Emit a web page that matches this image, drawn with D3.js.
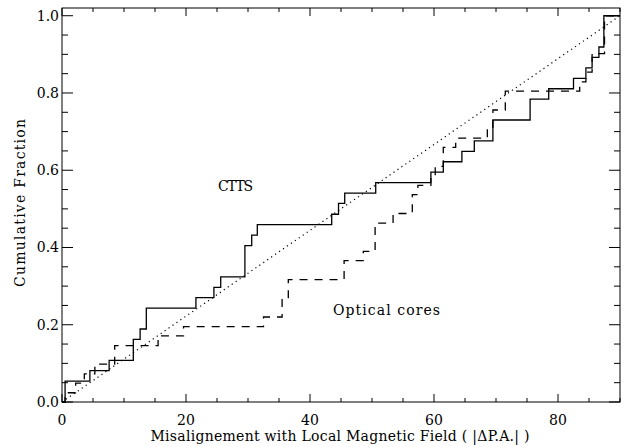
<!DOCTYPE html>
<html>
<head>
<meta charset="utf-8">
<script src="https://cdn.jsdelivr.net/npm/d3@7"></script>
<style>
  body { margin: 0; background: #fff; }
  text { font-family: "DejaVu Serif", serif; fill: #000; }
</style>
</head>
<body>
<div id="chart"></div>
<script>
// CTTS (solid) : angle of each step and cumulative fraction after it
const cttsAngle = [0, 0.5, 4.5, 7.6, 11.5, 12.6, 13.6, 21.6, 24.5, 25.6, 29.5, 30.6, 31.5, 43.5, 44.6, 45.6, 50.6, 59.5, 61.5, 64.5, 66.5, 69.5, 75.5, 78.5, 82.5, 84.5, 85.5, 86.6, 87.4, 90];
const cttsFrac  = [0, 0.054, 0.081, 0.108, 0.162, 0.189, 0.243, 0.270, 0.297, 0.324, 0.405, 0.432, 0.459, 0.486, 0.514, 0.541, 0.568, 0.595, 0.622, 0.649, 0.676, 0.730, 0.784, 0.811, 0.838, 0.865, 0.892, 0.919, 1.0, 1.0];

// Optical cores (dashed)
const coresAngle = [0, 0.5, 2.2, 3.6, 5.3, 8.5, 15.5, 19.6, 32.5, 35.5, 36.5, 45.5, 48.6, 50.5, 53.4, 56.5, 57.4, 59.5, 60.2, 61.5, 63.5, 68.6, 69.5, 71.5, 83.5, 84.5, 85.5, 87.5, 90];
const coresFrac  = [0, 0.024, 0.049, 0.073, 0.098, 0.146, 0.171, 0.195, 0.220, 0.268, 0.317, 0.366, 0.390, 0.463, 0.488, 0.537, 0.561, 0.585, 0.610, 0.659, 0.683, 0.707, 0.756, 0.805, 0.829, 0.854, 0.902, 1.0, 1.0];

// uniform distribution (dotted)
const uniformAngle = [0, 90];
const uniformFrac  = [0, 1];

const xTicks = [0, 20, 40, 60, 80];
const yTicks = [0.0, 0.2, 0.4, 0.6, 0.8, 1.0];

const width = 626, height = 447;
const margin = { top: 8, right: 6, bottom: 45, left: 62 };

const svg = d3.select('#chart').append('svg')
    .attr('width', width)
    .attr('height', height);

const x = d3.scaleLinear().domain([0, 90]).range([margin.left, width - margin.right]);
const y = d3.scaleLinear().domain([0, 1.02]).range([height - margin.bottom, margin.top]);

const x0 = x.range()[0], x1 = x.range()[1];
const y0 = y.range()[0], y1 = y.range()[1];

// ticks point inward on all four sides (IDL style)
const xMajLen = 8, xMinLen = 4, yMajLen = 11, yMinLen = 6;
const xMinor = d3.range(0, 91, 5);
const yMinor = d3.range(0, 1.001, 0.05);

const axes = svg.append('g').attr('stroke', '#000').attr('stroke-width', 1);

xMinor.forEach(v => {
    const len = xTicks.includes(v) ? xMajLen : xMinLen;
    axes.append('line').attr('x1', x(v)).attr('x2', x(v)).attr('y1', y0).attr('y2', y0 - len);
    axes.append('line').attr('x1', x(v)).attr('x2', x(v)).attr('y1', y1).attr('y2', y1 + len);
});
yMinor.forEach(v => {
    const major = yTicks.some(t => Math.abs(t - v) < 1e-6);
    const len = major ? yMajLen : yMinLen;
    axes.append('line').attr('x1', x0).attr('x2', x0 + len).attr('y1', y(v)).attr('y2', y(v));
    axes.append('line').attr('x1', x1).attr('x2', x1 - len).attr('y1', y(v)).attr('y2', y(v));
});

axes.append('rect')
    .attr('x', x0).attr('y', y1)
    .attr('width', x1 - x0).attr('height', y0 - y1)
    .attr('fill', 'none');

// tick labels
svg.append('g').selectAll('text').data(xTicks).enter().append('text')
    .attr('x', d => x(d))
    .attr('y', y0 + 23)
    .attr('text-anchor', 'middle')
    .attr('font-size', 14)
    .text(d => d);

svg.append('g').selectAll('text').data(yTicks).enter().append('text')
    .attr('x', x0 - 3)
    .attr('y', d => y(d) + 5)
    .attr('text-anchor', 'end')
    .attr('font-size', 14)
    .text(d => d.toFixed(1));

// axis titles
svg.append('text')
    .attr('x', 340)
    .attr('y', 441)
    .attr('text-anchor', 'middle')
    .attr('font-size', 14)
    .attr('textLength', 379)
    .attr('lengthAdjust', 'spacing')
    .text('Misalignement with Local Magnetic Field ( |\u0394P.A.| )');

svg.append('text')
    .attr('transform', `translate(25, 203) rotate(-90)`)
    .attr('text-anchor', 'middle')
    .attr('font-size', 14)
    .attr('textLength', 168)
    .attr('lengthAdjust', 'spacing')
    .text('Cumulative Fraction');

// curves
const step = d3.line()
    .x(d => x(d[0]))
    .y(d => y(d[1]))
    .curve(d3.curveStepAfter);

svg.append('path')
    .datum(d3.zip(uniformAngle, uniformFrac))
    .attr('d', d3.line().x(d => x(d[0])).y(d => y(d[1])))
    .attr('fill', 'none')
    .attr('stroke', '#000')
    .attr('stroke-width', 1.2)
    .attr('stroke-dasharray', '1.2,3.6');

svg.append('path')
    .datum(d3.zip(coresAngle, coresFrac))
    .attr('d', step)
    .attr('fill', 'none')
    .attr('stroke', '#000')
    .attr('stroke-width', 1.3)
    .attr('stroke-dasharray', '8,7');

svg.append('path')
    .datum(d3.zip(cttsAngle, cttsFrac))
    .attr('d', step)
    .attr('fill', 'none')
    .attr('stroke', '#000')
    .attr('stroke-width', 1.3);

// labels inside plot
svg.append('text')
    .attr('x', 218).attr('y', 191)
    .attr('font-size', 14)
    .attr('textLength', 35)
    .text('CTTS');

svg.append('text')
    .attr('x', 333).attr('y', 315)
    .attr('font-size', 14)
    .attr('textLength', 107)
    .attr('lengthAdjust', 'spacing')
    .text('Optical cores');
</script>
</body>
</html>
